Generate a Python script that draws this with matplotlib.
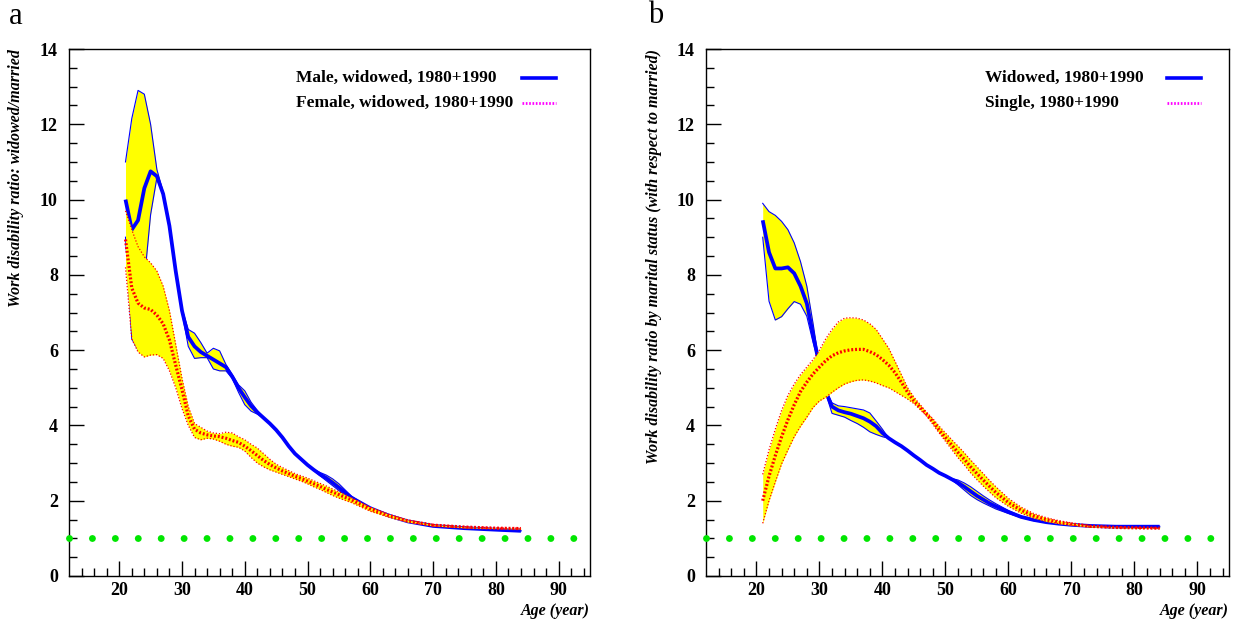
import numpy as np
import matplotlib
matplotlib.use("Agg")
import matplotlib.pyplot as plt
from matplotlib.lines import Line2D

# ---------------- data: panel a ----------------
age_a = [21, 22, 23, 24, 25, 26, 27, 28, 29, 30, 31, 32, 33, 34, 35, 36, 37, 38, 39, 40,
         41, 42, 43, 44, 45, 46, 47, 48, 49, 50, 51, 52, 53, 54, 55, 57, 60, 63, 66, 70,
         75, 80, 84]
male_mid = [10.0, 9.2, 9.45, 10.3, 10.75, 10.62, 10.15, 9.3, 8.1, 7.05, 6.35, 6.1, 5.95, 5.85,
            5.75, 5.65, 5.55, 5.3, 5.0, 4.75, 4.52, 4.35, 4.2, 4.05, 3.88, 3.68, 3.45, 3.25,
            3.1, 2.95, 2.82, 2.7, 2.6, 2.48, 2.35, 2.08, 1.8, 1.6, 1.45, 1.33, 1.27, 1.23, 1.2]
male_hi = [11.0, 12.15, 12.9, 12.8, 12.0, 10.8, 10.2, 9.35, 8.15, 7.1, 6.55, 6.45, 6.2, 5.92,
           6.05, 5.98, 5.62, 5.35, 5.08, 4.92, 4.62, 4.4, 4.2, 4.05, 3.88, 3.68, 3.45, 3.25,
           3.1, 2.95, 2.83, 2.75, 2.68, 2.58, 2.45, 2.12, 1.8, 1.6, 1.45, 1.33, 1.27, 1.23, 1.2]
male_lo = [9.0, 6.3, 6.0, 7.85, 9.6, 10.58, 10.1, 9.25, 8.05, 7.0, 6.1, 5.78, 5.8, 5.8,
           5.5, 5.45, 5.45, 5.25, 4.88, 4.55, 4.38, 4.3, 4.2, 4.05, 3.88, 3.68, 3.45, 3.25,
           3.1, 2.95, 2.8, 2.66, 2.53, 2.4, 2.27, 2.03, 1.8, 1.6, 1.45, 1.33, 1.27, 1.23, 1.2]
female_mid = [8.94, 7.65, 7.25, 7.12, 7.08, 6.93, 6.7, 6.27, 5.6, 4.95, 4.25, 3.9, 3.8, 3.75,
              3.72, 3.7, 3.66, 3.6, 3.55, 3.45, 3.33, 3.2, 3.07, 2.96, 2.87, 2.79, 2.72, 2.65,
              2.59, 2.52, 2.45, 2.38, 2.3, 2.23, 2.16, 2.02, 1.78, 1.6, 1.46, 1.35, 1.3, 1.27, 1.26]
female_hi = [9.7, 9.2, 8.75, 8.48, 8.32, 8.1, 7.7, 7.05, 6.15, 5.25, 4.5, 4.05, 3.95, 3.85,
             3.8, 3.78, 3.82, 3.8, 3.7, 3.62, 3.5, 3.4, 3.25, 3.1, 2.97, 2.88, 2.8, 2.72,
             2.66, 2.6, 2.53, 2.46, 2.39, 2.31, 2.24, 2.08, 1.83, 1.64, 1.49, 1.37, 1.31, 1.28, 1.27]
female_lo = [8.2, 6.3, 5.95, 5.82, 5.87, 5.88, 5.78, 5.45, 5.0, 4.45, 4.0, 3.68, 3.62, 3.66,
             3.64, 3.58, 3.5, 3.45, 3.42, 3.32, 3.15, 3.0, 2.9, 2.82, 2.76, 2.7, 2.64, 2.58,
             2.52, 2.45, 2.37, 2.3, 2.22, 2.14, 2.07, 1.95, 1.72, 1.56, 1.43, 1.33, 1.28, 1.26, 1.25]

# ---------------- data: panel b ----------------
age_b = [21, 22, 23, 24, 25, 26, 27, 28, 29, 30, 31, 32, 33, 34, 35, 36, 37, 38, 39, 40,
         41, 42, 43, 44, 45, 46, 47, 48, 49, 50, 51, 52, 53, 54, 55, 56, 57, 58, 60, 62,
         64, 66, 68, 70, 73, 77, 80, 84]
wid_mid = [9.45, 8.6, 8.17, 8.17, 8.2, 8.04, 7.7, 7.24, 6.4, 5.6, 4.9, 4.5, 4.4, 4.35, 4.31,
           4.25, 4.19, 4.1, 3.98, 3.8, 3.66, 3.55, 3.45, 3.33, 3.2, 3.08, 2.95, 2.85, 2.74,
           2.66, 2.57, 2.48, 2.37, 2.25, 2.13, 2.03, 1.93, 1.85, 1.7, 1.57, 1.49, 1.43, 1.39,
           1.36, 1.33, 1.31, 1.31, 1.31]
wid_hi = [9.9, 9.68, 9.58, 9.42, 9.2, 8.85, 8.35, 7.7, 6.7, 5.6, 4.95, 4.6, 4.52, 4.5, 4.47,
          4.44, 4.41, 4.33, 4.12, 3.9, 3.66, 3.55, 3.45, 3.33, 3.2, 3.08, 2.95, 2.85, 2.74,
          2.66, 2.59, 2.55, 2.47, 2.37, 2.25, 2.13, 2.02, 1.92, 1.74, 1.59, 1.5, 1.44, 1.4,
          1.37, 1.34, 1.32, 1.32, 1.32]
wid_lo = [9.0, 7.3, 6.8, 6.89, 7.1, 7.29, 7.22, 6.9, 6.2, 5.6, 4.85, 4.32, 4.27, 4.22, 4.13,
          4.05, 3.95, 3.83, 3.76, 3.7, 3.66, 3.55, 3.45, 3.33, 3.2, 3.08, 2.95, 2.85, 2.74,
          2.66, 2.55, 2.42, 2.28, 2.14, 2.03, 1.94, 1.86, 1.78, 1.66, 1.55, 1.47, 1.42, 1.38,
          1.35, 1.32, 1.3, 1.3, 1.3]
sing_mid = [2.0, 2.65, 3.2, 3.7, 4.15, 4.55, 4.9, 5.15, 5.37, 5.55, 5.72, 5.85, 5.93, 5.98,
            6.01, 6.02, 6.02, 5.96, 5.88, 5.75, 5.6, 5.4, 5.15, 4.88, 4.65, 4.48, 4.3, 4.1,
            3.88, 3.68, 3.48, 3.28, 3.1, 2.9, 2.72, 2.55, 2.38, 2.22, 1.95, 1.75, 1.6, 1.5,
            1.43, 1.38, 1.32, 1.29, 1.28, 1.27]
sing_hi = [2.7, 3.35, 3.9, 4.4, 4.8, 5.1, 5.35, 5.55, 5.75, 6.0, 6.3, 6.55, 6.75, 6.85, 6.86,
           6.85, 6.8, 6.7, 6.55, 6.3, 6.05, 5.7, 5.35, 5.0, 4.75, 4.55, 4.35, 4.18, 3.98, 3.8,
           3.62, 3.45, 3.27, 3.08, 2.9, 2.72, 2.54, 2.37, 2.06, 1.83, 1.66, 1.55, 1.47, 1.41,
           1.34, 1.3, 1.29, 1.28]
sing_lo = [1.4, 2.0, 2.5, 2.98, 3.35, 3.7, 3.98, 4.22, 4.48, 4.65, 4.75, 4.88, 5.0, 5.1, 5.16,
           5.2, 5.21, 5.18, 5.13, 5.06, 5.0, 4.9, 4.8, 4.7, 4.58, 4.42, 4.25, 4.03, 3.8, 3.58,
           3.36, 3.14, 2.95, 2.74, 2.56, 2.39, 2.23, 2.08, 1.85, 1.67, 1.54, 1.45, 1.39, 1.35,
           1.3, 1.28, 1.27, 1.26]

legend_a = ["Male, widowed, 1980+1990", "Female, widowed, 1980+1990"]
legend_b = ["Widowed, 1980+1990", "Single, 1980+1990"]
ylabel_a = "Work disability ratio: widowed/married"
ylabel_b = "Work disability ratio by marital status (with respect to married)"
xlabel = "Age (year)"
ref_level = 1.0

BLUE = "#0000ff"
RED = "#ff0000"
YEL = "#ffff00"
GREEN = "#00e600"
MAG = "#ff00ff"
SERIF = ["Liberation Serif", "DejaVu Serif"]

plt.rcParams["font.family"] = SERIF

fig = plt.figure(figsize=(12.39, 6.25), dpi=100)
ax_a = fig.add_axes([69 / 1239, 49 / 625, 521 / 1239, 527 / 625])
ax_b = fig.add_axes([706 / 1239, 49 / 625, 523 / 1239, 527 / 625])


def band(ax, x, mid, lo, hi, solid, z):
    x = np.asarray(x)
    ax.fill_between(x, lo, hi, color=YEL, lw=0, zorder=z)
    if solid:
        ax.plot(x, lo, color=BLUE, lw=0.8, zorder=z + 0.1)
        ax.plot(x, hi, color=BLUE, lw=0.8, zorder=z + 0.1)
        ax.plot(x, mid, color=BLUE, lw=2.7, zorder=z + 0.2, solid_capstyle="butt")
    else:
        ax.plot(x, lo, color=RED, lw=0.9, ls=(0, (1, 1.5)), zorder=z + 0.1)
        ax.plot(x, hi, color=RED, lw=0.9, ls=(0, (1, 1.5)), zorder=z + 0.1)
        ax.plot(x, mid, color=RED, lw=2.3, ls=(0, (0.6, 0.6)), zorder=z + 0.2)


def style(ax, ylab, xtext, hx0, labels, lab_x):
    ax.set_xlim(12, 95)
    ax.set_ylim(0, 14)
    ax.axhline(ref_level, color=GREEN, lw=5.0, ls=(0, (0.001, 3.3)),
               dash_capstyle="round", clip_on=False, zorder=5)
    ax.set_xticks(np.arange(20, 91, 10))
    ax.set_xticks(np.arange(14, 95, 2), minor=True)
    ax.set_yticks(np.arange(0, 15, 2))
    ax.set_yticks(np.arange(0, 14.01, 0.5), minor=True)
    ax.tick_params(which="both", direction="in", top=False, right=False, width=1)
    ax.tick_params(which="major", length=11)
    ax.tick_params(which="minor", length=5.5)
    ax.tick_params(axis="x", which="major", pad=4)
    ax.tick_params(axis="y", which="major", pad=8)
    for lab in ax.get_xticklabels() + ax.get_yticklabels():
        lab.set_fontweight("bold")
        lab.set_fontsize(13)
    for sp in ax.spines.values():
        sp.set_linewidth(1.0)
    ax.set_ylabel(ylab, loc="top", fontsize=11.5, fontweight="bold", style="italic", va="center")
    ax.yaxis.set_label_coords(lab_x, 1.0)
    ax.set_xlabel(xlabel, loc="right", fontsize=11.5, fontweight="bold", style="italic", va="center")
    ax.xaxis.set_label_coords(1.0, -0.066)
    rows = [0.945, 0.8975]
    for lab, yy in zip(labels, rows):
        ax.text(xtext, yy, lab, transform=ax.transAxes, fontsize=12.5, fontweight="bold",
                va="center", ha="left")
    ax.add_line(Line2D([hx0, hx0 + 0.066], [rows[0], rows[0]], transform=ax.transAxes,
                       color=BLUE, lw=2.6))
    ax.add_line(Line2D([hx0, hx0 + 0.066], [rows[1], rows[1]], transform=ax.transAxes,
                       color=MAG, lw=2.0, ls=(0, (0.6, 0.6))))


band(ax_a, age_a, male_mid, male_lo, male_hi, True, 2)
band(ax_a, age_a, female_mid, female_lo, female_hi, False, 3)
band(ax_b, age_b, wid_mid, wid_lo, wid_hi, True, 2)
band(ax_b, age_b, sing_mid, sing_lo, sing_hi, False, 3)

style(ax_a, ylabel_a, 0.436, 0.8695, legend_a, -0.102)
style(ax_b, ylabel_b, 0.534, 0.8805, legend_b, -0.100)

fig.text(9 / 1239, 1 - 24 / 625, "a", fontsize=22, va="baseline", ha="left")
fig.text(648 / 1239, 1 - 23 / 625, "b", fontsize=22, va="baseline", ha="left")

fig.savefig("out.png", dpi=100)
